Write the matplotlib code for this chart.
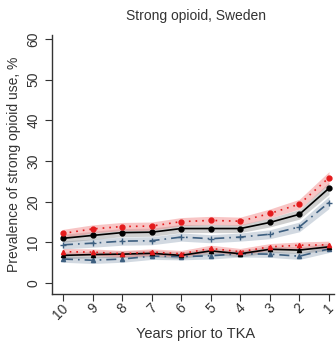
import matplotlib
matplotlib.use('Agg')
import matplotlib.pyplot as plt
import matplotlib.transforms as mtransforms
import numpy as np

plt.rcParams['font.family'] = ['Liberation Sans', 'DejaVu Sans']

years = ['10', '9', '8', '7', '6', '5', '4', '3', '2', '1']

# upper group (strong opioid, first cohort)
black_hi = [11.0, 11.7, 12.4, 12.5, 13.4, 13.4, 13.4, 14.9, 16.9, 23.3]
red_hi = [12.2, 13.3, 13.9, 14.0, 15.1, 15.4, 15.2, 17.1, 19.4, 25.9]
blue_hi = [9.4, 9.8, 10.3, 10.4, 11.3, 10.9, 11.3, 12.0, 13.8, 19.8]

# lower group (comparison cohort)
black_lo = [6.8, 7.0, 7.1, 7.3, 6.8, 7.9, 7.2, 8.3, 8.1, 8.9]
red_lo = [7.7, 7.6, 7.2, 7.6, 7.2, 8.5, 7.7, 8.9, 9.3, 9.4]
blue_lo = [5.9, 5.6, 5.9, 6.6, 6.5, 6.7, 7.2, 7.1, 6.6, 8.4]

# confidence interval half widths
ci_hi = [1.0, 1.0, 1.0, 1.0, 1.0, 1.0, 1.0, 1.1, 1.2, 1.5]
ci_lo = [0.8, 0.8, 0.8, 0.8, 0.8, 0.8, 0.8, 0.8, 0.8, 0.9]

RED = '#e41a1c'
BLUE = '#3d5f80'
BLACK = '#000000'
TEXT = '#333333'

fig = plt.figure(figsize=(3.36, 3.49), dpi=100)
ax = fig.add_axes([52 / 336, 1 - 294 / 349, (334 - 52) / 336, (294 - 35) / 349])

x = np.arange(len(years))


def draw_series(ax, values, ci, color, fill, alpha, ls, marker, ms, lw):
    v = np.array(values)
    c = np.array(ci)
    ax.fill_between(x, v - c, v + c, color=fill, alpha=alpha, lw=0)
    ax.plot(x, v, color=color, linestyle=ls, marker=marker, markersize=ms, linewidth=lw)


draw_series(ax, blue_hi, ci_hi, BLUE, '#8fa2b6', 0.4, (0, (6, 3, 1, 3)), '+', 5, 1.2)
draw_series(ax, black_hi, ci_hi, BLACK, '#777777', 0.35, '-', 'o', 3.5, 1.2)
draw_series(ax, red_hi, ci_hi, RED, '#f28c8c', 0.5, (0, (1, 3)), 'o', 3.5, 1.2)

draw_series(ax, blue_lo, ci_lo, BLUE, '#8fa2b6', 0.4, (0, (6, 3, 1, 3)), '^', 3, 1.2)
draw_series(ax, black_lo, ci_lo, BLACK, '#777777', 0.35, '-', '^', 3, 1.2)
draw_series(ax, red_lo, ci_lo, RED, '#f28c8c', 0.5, (0, (1, 3)), '^', 3, 1.2)

ax.set_xlim(-0.372, 9.17)
ax.set_ylim(-2.7, 61)
ax.set_xticks(x)
ax.set_xticklabels([])
# rotated year labels, set slightly left of each tick
label_tr = ax.get_xaxis_transform() + mtransforms.ScaledTranslation(-2 / 100, -7 / 100, fig.dpi_scale_trans)
for xi, lab in zip(x, years):
    ax.text(xi, 0, lab, transform=label_tr, rotation=45, ha='right', va='top',
            rotation_mode='anchor', fontsize=10, color=TEXT)
ax.set_yticks([0, 10, 20, 30, 40, 50, 60])
ax.set_yticklabels(['0', '10', '20', '30', '40', '50', '60'], rotation=90, va='center')

for side in ['top', 'right']:
    ax.spines[side].set_visible(False)
for side in ['left', 'bottom']:
    ax.spines[side].set_color(TEXT)
    ax.spines[side].set_linewidth(1.0)
ax.tick_params(colors=TEXT, labelcolor=TEXT, labelsize=10, length=5, width=0.8)

ax.set_ylabel('Prevalence of strong opioid use, %', fontsize=10, color=TEXT, labelpad=4)
fig.text(196 / 336, 1 - 334 / 349, 'Years prior to TKA', ha='center', va='center',
         fontsize=10.5, color=TEXT)
fig.text(196 / 336, 1 - 16 / 349, 'Strong opioid, Sweden', ha='center', va='center',
         fontsize=10, color=TEXT)

fig.savefig('out.png', dpi=100)
